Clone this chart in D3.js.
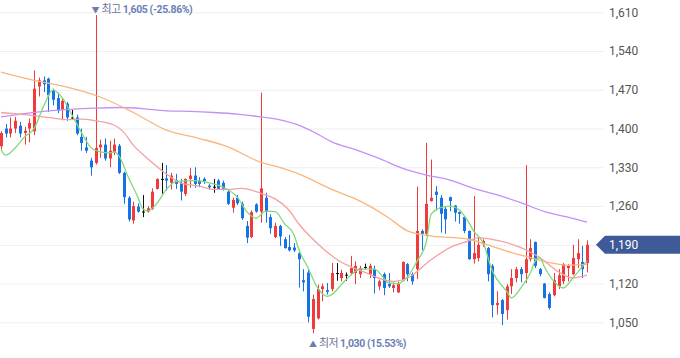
<!DOCTYPE html>
<html>
<head>
<meta charset="utf-8">
<script src="https://cdn.jsdelivr.net/npm/d3@7"></script>
<style>
  body { margin: 0; background: #fff; }
  svg { display: block; }
</style>
</head>
<body>
<svg id="chart" width="680" height="358"></svg>
<script>
// daily candles, oldest first
const opens = [1368,1400,1391,1400,1405,1392,1400,1395,1476,1487,1490,1468,1455,1434,1445,1420,1420,1385,1366,1342,
  1338,1366,1371,1346,1358,1369,1320,1275,1234,1259,1250,1250,1255,1291,1309,1310,1302,1307,1302,1282,
  1309,1315,1306,1309,1297,1295,1306,1302,1286,1257,1275,1264,1224,1204,1263,1250,1275,1240,1204,1224,
  1200,1186,1185,1175,1126,1140,1038,1057,1110,1108,1110,1139,1130,1136,1139,1139,1137,1150,1137,1146,
  1115,1137,1119,1112,1104,1126,1155,1137,1146,1215,1210,1269,1286,1275,1255,1276,1261,1249,1240,1215,
  1164,1166,1191,1184,1152,1081,1090,1072,1115,1130,1146,1139,1164,1195,1146,1120,1101,1099,1115,1124,
  1148,1137,1164,1159,1157];
const highs = [1395,1408,1420,1421,1412,1403,1418,1505,1492,1494,1492,1472,1465,1456,1448,1434,1425,1400,1385,1347,
  1605,1380,1382,1378,1382,1372,1322,1278,1268,1265,1280,1260,1292,1310,1338,1334,1320,1318,1309,1310,
  1329,1330,1312,1312,1300,1309,1309,1306,1290,1275,1280,1268,1233,1252,1265,1465,1284,1245,1230,1226,
  1204,1208,1193,1180,1146,1145,1100,1118,1120,1121,1157,1157,1145,1140,1170,1160,1152,1156,1156,1152,
  1127,1140,1139,1122,1124,1160,1157,1140,1295,1218,1374,1344,1296,1280,1260,1277,1262,1250,1242,1216,
  1278,1206,1200,1186,1155,1106,1092,1119,1146,1150,1150,1334,1200,1196,1148,1121,1104,1139,1146,1157,
  1155,1190,1200,1188,1198];
const lows = [1362,1384,1384,1392,1384,1371,1375,1388,1458,1466,1430,1442,1428,1415,1414,1416,1388,1360,1356,1315,
  1335,1347,1342,1330,1352,1318,1264,1232,1228,1248,1240,1248,1253,1290,1282,1288,1290,1291,1270,1278,
  1293,1293,1294,1300,1290,1284,1289,1288,1262,1248,1262,1235,1193,1202,1248,1230,1230,1210,1202,1188,
  1183,1178,1177,1113,1106,1050,1030,1055,1088,1100,1106,1125,1124,1125,1135,1119,1130,1146,1130,1102,
  1108,1099,1112,1104,1103,1124,1124,1118,1128,1180,1208,1268,1252,1212,1210,1251,1232,1228,1211,1163,
  1156,1160,1186,1124,1059,1064,1045,1055,1101,1122,1122,1121,1160,1148,1133,1093,1073,1097,1110,1119,
  1124,1135,1148,1130,1140];
const closes = [1392,1391,1400,1414,1391,1396,1410,1472,1487,1480,1460,1452,1432,1450,1420,1420,1391,1374,1360,1330,
  1365,1371,1346,1360,1371,1320,1276,1236,1260,1250,1250,1256,1286,1309,1309,1306,1315,1300,1286,1309,
  1315,1300,1300,1305,1294,1295,1291,1291,1264,1271,1265,1238,1203,1249,1250,1292,1250,1220,1224,1205,
  1184,1180,1180,1164,1122,1060,1092,1110,1115,1105,1139,1139,1139,1136,1148,1152,1148,1150,1152,1130,
  1124,1112,1115,1117,1119,1159,1137,1124,1215,1210,1264,1275,1280,1246,1236,1269,1248,1246,1215,1164,
  1175,1190,1197,1137,1081,1085,1065,1115,1130,1146,1137,1164,1184,1152,1137,1094,1076,1126,1135,1155,
  1152,1166,1175,1146,1190];

// moving averages as [day index, value]
const ma5 = [[0,1362],[1,1352],[3,1365],[5,1385],[7,1400],[9,1440],[11,1470],[13,1455],[15,1425],[17,1393],
  [19,1366],[21,1358],[23,1356],[24,1358],[25,1350],[27,1311],[29,1275],[30,1255],[31,1251],[33,1265],
  [35,1290],[37,1304],[41,1306],[44,1302],[47,1294],[50,1276],[52,1250],[54,1238],[56,1251],[58,1250],
  [60,1228],[62,1208],[63,1182],[65,1148],[67,1112],[69,1097],[70,1100],[72,1118],[74,1135],[76,1146],
  [79,1146],[81,1130],[82,1121],[84,1120],[86,1132],[88,1160],[90,1195],[91,1245],[93,1257],[95,1260],
  [97,1253],[99,1230],[100,1215],[102,1194],[104,1142],[107,1106],[108,1094],[110,1112],[112,1139],
  [113,1160],[114,1167],[115,1150],[117,1124],[119,1112],[121,1130],[124,1161]];
const ma20 = [[0,1429],[5,1425],[10,1420],[14,1416],[17,1417],[20,1414],[24,1406],[26,1393],[28,1370],
  [31,1346],[35,1318],[38,1302],[42,1296],[45,1290],[48,1290],[51,1292],[55,1283],[58,1273],[61,1252],
  [63,1228],[67,1192],[71,1164],[77,1140],[83,1124],[86,1130],[91,1163],[95,1185],[99,1197],[101,1203],
  [105,1198],[110,1185],[114,1167],[118,1141],[121,1130],[124,1135]];
const ma60 = [[0,1502],[7,1487],[14,1475],[21,1457],[28,1429],[35,1397],[42,1382],[48,1367],[55,1339],
  [59,1330],[63,1318],[70,1290],[76,1269],[82,1239],[86,1215],[90,1207],[99,1200],[103,1190],[108,1176],
  [112,1167],[116,1158],[120,1153],[124,1155]];
const ma120 = [[0,1421],[10,1432],[20,1437],[25,1438],[30,1436],[35,1432],[40,1431],[45,1429],[50,1426],
  [55,1421],[60,1414],[63,1406],[67,1390],[70,1376],[75,1362],[80,1346],[85,1328],[90,1316],[95,1307],
  [100,1292],[105,1280],[110,1266],[115,1250],[120,1240],[124,1231]];

const yTicks = [1050, 1120, 1190, 1260, 1330, 1400, 1470, 1540, 1610];

const svg = d3.select('#chart');
const plotRight = 603;
const n = closes.length;
const candles = closes.map((c, i) => ({i: i, o: opens[i], h: highs[i], l: lows[i], c: c}));

const x = d3.scaleLinear().domain([0, n - 1]).range([1, 587]);
const y = d3.scaleLinear().domain([1050, 1610]).range([322.3, 12.3]);

// grid
const grid = svg.append('g')
  .call(d3.axisRight(y).tickValues(yTicks).tickSize(plotRight).tickFormat(''));
grid.select('.domain').remove();
grid.selectAll('line').attr('stroke', '#eceef2');

// price labels
const yAxis = svg.append('g')
  .attr('transform', `translate(${plotRight},0)`)
  .call(d3.axisRight(y).tickValues(yTicks).tickSize(0).tickPadding(6).tickFormat(d3.format(',')));
yAxis.select('.domain').remove();
yAxis.selectAll('text')
  .attr('fill', '#555')
  .style('font-family', 'Roboto, sans-serif')
  .style('font-size', '12px');

const colorOf = d => d.c > d.o ? '#ef3b3b' : (d.c < d.o ? '#1673e6' : '#111');

const cg = svg.append('g');
cg.selectAll('line.wick').data(candles).enter().append('line')
  .attr('class', 'wick')
  .attr('x1', d => Math.round(x(d.i)) + 0.5)
  .attr('x2', d => Math.round(x(d.i)) + 0.5)
  .attr('y1', d => y(d.h))
  .attr('y2', d => y(d.l))
  .attr('stroke', colorOf)
  .attr('stroke-width', 1);
cg.selectAll('rect.body').data(candles).enter().append('rect')
  .attr('class', 'body')
  .attr('x', d => Math.round(x(d.i)) - 1)
  .attr('width', 3)
  .attr('y', d => y(Math.max(d.o, d.c)))
  .attr('height', d => Math.max(1, Math.abs(y(d.o) - y(d.c))))
  .attr('fill', colorOf);

// moving average lines
const maLine = d3.line().x(d => x(d[0])).y(d => y(d[1])).curve(d3.curveMonotoneX);
[[ma120, '#c490f7'], [ma60, '#fbb57c'], [ma20, '#f7a0a0'], [ma5, '#80d97b']].forEach(([data, color]) => {
  svg.append('path')
    .datum(data)
    .attr('fill', 'none')
    .attr('stroke', color)
    .attr('stroke-width', 1.3)
    .attr('d', maLine);
});

// high / low notes
const last = closes[n - 1];
const hiIdx = d3.maxIndex(highs);
const loIdx = d3.minIndex(lows);
const pct = v => ((last / v - 1) * 100).toFixed(2) + '%';
const fmt = d3.format(',');

function note(idx, yPos, arrow, label, value) {
  const t = svg.append('text')
    .attr('x', x(idx) - 4)
    .attr('y', yPos)
    .style('font-family', 'Roboto, "Noto Sans CJK KR", sans-serif')
    .style('font-size', '11px');
  t.append('tspan').attr('fill', '#6b7db0').style('font-size', '8px').text(arrow + ' ');
  t.append('tspan').attr('fill', '#6b7596').style('font-family', '"Noto Sans CJK KR", sans-serif')
    .style('letter-spacing', '-0.5px').text(label + ' ');
  t.append('tspan').attr('fill', '#6b7fb5').attr('font-weight', 'bold')
    .style('font-size', '10.5px').style('letter-spacing', '-0.4px')
    .text(fmt(value) + ' (' + pct(value) + ')');
}
note(hiIdx, 13, '▼', '최고', highs[hiIdx]);
note(loIdx, 347, '▲', '최저', lows[loIdx]);

// current price tag
const ty = y(last);
svg.append('path')
  .attr('d', `M596,${ty} L605,${ty - 9} L680,${ty - 9} L680,${ty + 9} L605,${ty + 9} Z`)
  .attr('fill', '#3e5a98');
svg.append('text')
  .attr('x', 609)
  .attr('y', ty + 4.5)
  .attr('fill', '#fff')
  .style('font-family', 'Roboto, sans-serif')
  .style('font-size', '12px')
  .text(fmt(last));
</script>
</body>
</html>
